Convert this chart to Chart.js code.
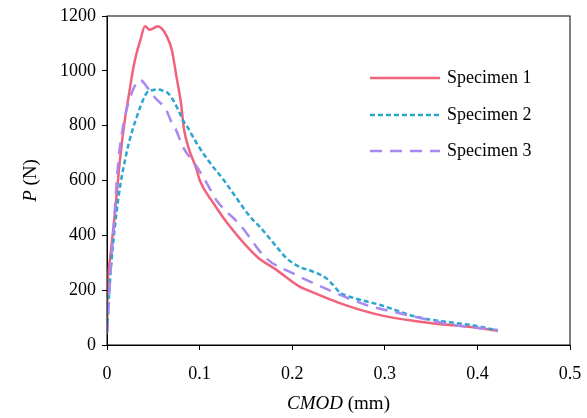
<!DOCTYPE html>
<html lang="en">
<head>
	<meta charset="UTF-8">
	<title>P - CMOD</title>
	<script src="https://cdn.jsdelivr.net/npm/chart.js@4.4.0/dist/chart.umd.min.js"></script>
	<style>
		html, body { margin: 0; padding: 0; background: #fff; }
		#wrap { width: 587px; height: 418px; }
	</style>
</head>
<body>
	<div id="wrap"><canvas id="pcmod"></canvas></div>
	<script>
		// values
		var legendNames = ["Specimen 1", "Specimen 2", "Specimen 3"];
		var xTicks = [0, 0.1, 0.2, 0.3, 0.4, 0.5];
		var yTicks = [0, 200, 400, 600, 800, 1000, 1200];

		var s1Cmod = [0, 0.0005, 0.0032, 0.0086, 0.014, 0.019, 0.024, 0.028, 0.032, 0.036, 0.041, 0.046, 0.050, 0.055, 0.059, 0.064, 0.070, 0.075, 0.080, 0.083, 0.088, 0.097, 0.100, 0.115, 0.133, 0.162, 0.183, 0.208, 0.216, 0.252, 0.295, 0.338, 0.403, 0.422];
		var s1Load = [50, 190, 310, 481, 675, 815, 920, 1003, 1065, 1112, 1163, 1150, 1155, 1163, 1155, 1130, 1076, 979, 880, 790, 720, 638, 602, 517, 431, 322, 274, 213, 201, 152, 109, 85, 61, 52];

		var s2Cmod = [0, 0.0014, 0.005, 0.012, 0.021, 0.028, 0.032, 0.036, 0.043, 0.050, 0.055, 0.060, 0.066, 0.072, 0.077, 0.082, 0.086, 0.097, 0.110, 0.126, 0.140, 0.154, 0.165, 0.183, 0.194, 0.208, 0.223, 0.237, 0.244, 0.252, 0.262, 0.295, 0.334, 0.403, 0.422];
		var s2Load = [50, 140, 310, 529, 699, 790, 830, 869, 920, 930, 932, 928, 918, 890, 857, 820, 800, 735, 670, 602, 535, 470, 431, 359, 316, 285, 267, 243, 219, 190, 176, 146, 103, 67, 52];

		var s3Cmod = [0, 0.0015, 0.004, 0.007, 0.012, 0.016, 0.021, 0.028, 0.033, 0.036, 0.040, 0.043, 0.048, 0.054, 0.060, 0.064, 0.070, 0.073, 0.082, 0.097, 0.108, 0.118, 0.144, 0.172, 0.201, 0.208, 0.244, 0.280, 0.316, 0.374, 0.422];
		var s3Load = [40, 120, 280, 419, 663, 770, 857, 930, 960, 967, 955, 942, 918, 894, 875, 857, 810, 796, 723, 650, 589, 529, 437, 316, 261, 249, 194, 146, 116, 73, 55];

		var colors = ["#f2637b", "#2aa6cf", "#a889f2"];
		var dashes = [[], [5, 3], [12, 8]];

		function pts(xs, ys) {
			var out = [];
			for (var i = 0; i < xs.length; i++) out.push({ x: xs[i], y: ys[i] });
			return out;
		}

		var serif = "'Liberation Serif', 'Times New Roman', serif";

		// frame, legend and axis titles with italic parts
		var extras = {
			id: 'extras',
			afterDraw: function (chart) {
				var ctx = chart.ctx, a = chart.chartArea;
				ctx.save();
				ctx.strokeStyle = '#000';
				ctx.lineWidth = 1;
				ctx.strokeRect(a.left, a.top, a.right - a.left, a.bottom - a.top);

				// legend, in specimen order
				ctx.font = "18px " + serif;
				ctx.textBaseline = 'middle';
				ctx.fillStyle = '#000';
				var ly = [78, 115, 151];
				legendNames.forEach(function (name, i) {
					ctx.beginPath();
					ctx.strokeStyle = colors[i];
					ctx.lineWidth = 2.5;
					ctx.setLineDash(dashes[i]);
					ctx.moveTo(370, ly[i]);
					ctx.lineTo(440, ly[i]);
					ctx.stroke();
					ctx.setLineDash([]);
					ctx.fillText(name, 447, ly[i]);
				});

				// x title: CMOD (mm)
				ctx.textBaseline = 'alphabetic';
				var it = "italic 19px " + serif, rm = "19px " + serif;
				ctx.font = it; var w1 = ctx.measureText("CMOD").width;
				ctx.font = rm; var w2 = ctx.measureText(" (mm)").width;
				var cx = (a.left + a.right) / 2 - (w1 + w2) / 2;
				ctx.font = it; ctx.fillText("CMOD", cx, 409);
				ctx.font = rm; ctx.fillText(" (mm)", cx + w1, 409);

				// y title: P (N)
				ctx.translate(36, (a.top + a.bottom) / 2);
				ctx.rotate(-Math.PI / 2);
				ctx.font = it; var v1 = ctx.measureText("P").width;
				ctx.font = rm; var v2 = ctx.measureText(" (N)").width;
				ctx.font = it; ctx.fillText("P", -(v1 + v2) / 2, 0);
				ctx.font = rm; ctx.fillText(" (N)", -(v1 + v2) / 2 + v1, 0);
				ctx.restore();
			}
		};

		new Chart(document.getElementById('pcmod'), {
			type: 'line',
			data: {
				// specimen 3 first so specimen 1 is drawn on top
				datasets: [2, 1, 0].map(function (i) {
					var xs = [s1Cmod, s2Cmod, s3Cmod][i], ys = [s1Load, s2Load, s3Load][i];
					return {
						label: legendNames[i],
						data: pts(xs, ys),
						borderColor: colors[i],
						backgroundColor: colors[i],
						borderWidth: 2.5,
						borderDash: dashes[i],
						pointRadius: 0,
						cubicInterpolationMode: 'monotone',
						fill: false
					};
				})
			},
			options: {
				responsive: true,
				maintainAspectRatio: false,
				animation: false,
				layout: { padding: { left: 0, top: 16, right: 17, bottom: 0 } },
				plugins: { legend: { display: false }, tooltip: { enabled: false } },
				scales: {
					x: {
						type: 'linear', min: 0, max: 0.5,
						afterBuildTicks: function (s) { s.ticks = xTicks.map(function (v) { return { value: v }; }); },
						afterFit: function (s) { s.height = 73; s.paddingLeft = 0; s.paddingRight = 0; },
						grid: { drawOnChartArea: false, tickLength: 5, color: '#000' },
						border: { color: '#000', width: 1 },
						ticks: { color: '#000', font: { family: serif, size: 18 }, padding: 13, maxRotation: 0,
							callback: function (v) { return String(v); } }
					},
					y: {
						type: 'linear', min: 0, max: 1200,
						afterBuildTicks: function (s) { s.ticks = yTicks.map(function (v) { return { value: v }; }); },
						afterFit: function (s) { s.width = 107; s.paddingTop = 0; s.paddingBottom = 0; },
						grid: { drawOnChartArea: false, tickLength: 5, color: '#000' },
						border: { color: '#000', width: 1 },
						ticks: { color: '#000', font: { family: serif, size: 18 }, padding: 6,
							callback: function (v) { return String(v); } }
					}
				}
			},
			plugins: [extras]
		});
	</script>
</body>
</html>
